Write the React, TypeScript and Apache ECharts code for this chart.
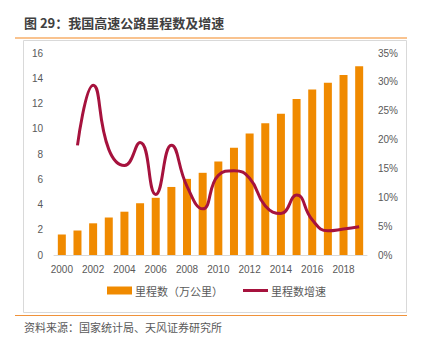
import React, { useEffect, useRef } from "react";
import * as echarts from "echarts";

const years = ["2000","2001","2002","2003","2004","2005","2006","2007","2008","2009","2010","2011","2012","2013","2014","2015","2016","2017","2018","2019"];
const mileage = [1.63,1.94,2.51,2.97,3.43,4.10,4.53,5.39,6.03,6.51,7.41,8.49,9.62,10.44,11.19,12.35,13.10,13.65,14.26,14.96];
const growth: (number | null)[] = [null,19.0,29.4,18.3,15.5,19.5,10.5,19.0,11.9,8.0,13.8,14.6,13.3,8.5,7.2,10.4,6.1,4.2,4.5,4.9];

const titleText = "图 29：我国高速公路里程数及增速";
const sourceText = "资料来源：国家统计局、天风证券研究所";
const barName = "里程数（万公里）";
const lineName = "里程数增速";

const FONT = "'Liberation Sans', 'Noto Sans CJK SC', sans-serif";
const CJK = "'Noto Sans CJK SC', sans-serif";

export default function App() {
  const ref = useRef<HTMLDivElement>(null);
  useEffect(() => {
    if (!ref.current) return;
    const chart = echarts.init(ref.current, null, { renderer: "svg" });
    chart.setOption({
      animation: false,
      backgroundColor: "#ffffff",
      textStyle: { fontFamily: FONT },
      grid: { left: 54, right: 54, top: 53, bottom: 95, containLabel: false },
      legend: {
        bottom: 49,
        left: 102,
        itemWidth: 25,
        itemHeight: 8,
        itemGap: 20,
        symbolKeepAspect: true,
        textStyle: { fontFamily: CJK, fontSize: 11, color: "#595959", padding: [0, 0, 0, -2] },
        data: [
          { name: barName, icon: "rect" },
          { name: lineName, icon: "path://M0 0H100V12H0Z" },
        ],
      },
      xAxis: {
        type: "category",
        data: years,
        axisTick: { show: false },
        axisLine: { lineStyle: { color: "#d9d9d9", width: 1 } },
        axisLabel: { interval: 1, color: "#595959", fontSize: 10, margin: 9 },
      },
      yAxis: [
        {
          type: "value",
          min: 0,
          max: 16,
          interval: 2,
          splitLine: { show: false },
          axisLine: { show: false },
          axisTick: { show: false },
          axisLabel: { color: "#595959", fontSize: 10, margin: 11 },
        },
        {
          type: "value",
          min: 0,
          max: 35,
          interval: 5,
          splitLine: { show: false },
          axisLine: { show: false },
          axisTick: { show: false },
          axisLabel: { color: "#595959", fontSize: 10, margin: 11, formatter: "{value}%" },
        },
      ],
      series: [
        {
          name: barName,
          type: "bar",
          data: mileage,
          barWidth: 8,
          itemStyle: { color: "#F08A00" },
        },
        {
          name: lineName,
          type: "line",
          yAxisIndex: 1,
          data: growth,
          smooth: 0.5,
          showSymbol: false,
          symbol: "none",
          lineStyle: { color: "#A6123D", width: 3 },
          itemStyle: { color: "#A6123D" },
        },
      ],
      graphic: [
        {
          type: "text",
          left: 24,
          top: 16,
          style: { text: titleText, fontSize: 13, fontWeight: "bold", fill: "#404040", fontFamily: CJK },
        },
        {
          type: "line",
          shape: { x1: 15, y1: 38, x2: 407, y2: 38 },
          style: { stroke: "#F9C38F", lineWidth: 2 },
        },
        {
          type: "rect",
          shape: { x: 23.5, y: 40.5, width: 383, height: 272 },
          style: { fill: "none", stroke: "#d9d9d9", lineWidth: 1 },
          z: -1,
        },
        {
          type: "line",
          shape: { x1: 15, y1: 315.5, x2: 407, y2: 315.5 },
          style: { stroke: "#F0923A", lineWidth: 1 },
        },
        {
          type: "text",
          left: 24,
          top: 321,
          style: { text: sourceText, fontSize: 11, fill: "#595959", fontFamily: CJK },
        },
      ],
    });
    return () => chart.dispose();
  }, []);
  return (
    <div
      ref={ref}
      style={{ position: "fixed", left: 0, top: 0, width: 421, height: 350 }}
    />
  );
}
